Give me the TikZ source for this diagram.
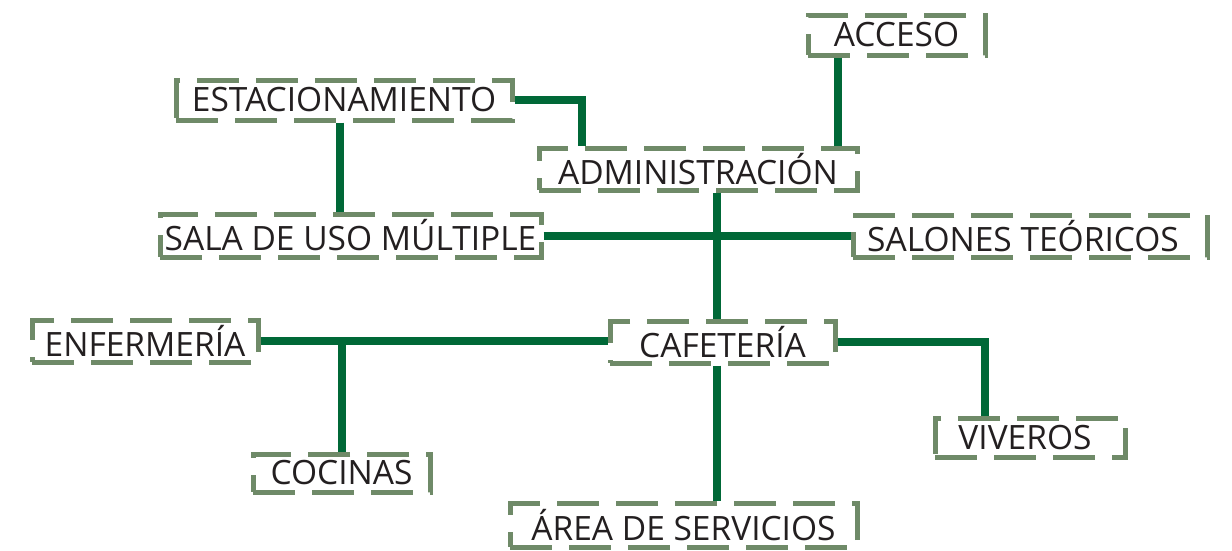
\documentclass[tikz,border=0pt]{standalone}
\usepackage{fontspec}
\setmainfont{Open Sans}
\definecolor{boxgreen}{RGB}{111,138,104}
\definecolor{linegreen}{RGB}{0,104,55}
\definecolor{txt}{RGB}{35,31,32}
\begin{document}
\begin{tikzpicture}[x=1pt,y=-1pt,
  area/.style={draw=boxgreen,line width=5pt,dash pattern=on 42pt off 17pt,
    rectangle,inner sep=0pt,text=txt,font=\fontsize{33.5}{33.5}\selectfont},
  conn/.style={draw=linegreen,line width=8pt}]
\useasboundingbox (0,0) rectangle (1232,550);
\node[area,minimum width=177pt,minimum height=40pt] (acc) at (896.5,35) {ACCESO};
\node[area,minimum width=336pt,minimum height=40pt] (est) at (344,100) {ESTACIONAMIENTO};
\node[area,minimum width=318pt,minimum height=42pt] (adm) at (698,169) {ADMINISTRACIÓN};
\node[area,minimum width=381pt,minimum height=43pt] (sala) at (350.5,235.5) {SALA DE USO MÚLTIPLE};
\node[area,minimum width=354pt,minimum height=42pt] (sal) at (1030,236) {SALONES TEÓRICOS\hspace*{14pt}};
\node[area,minimum width=226pt,minimum height=42pt] (enf) at (145,341) {ENFERMERÍA};
\node[area,minimum width=225pt,minimum height=42pt] (caf) at (722.5,342) {CAFETERÍA};
\node[area,minimum width=177pt,minimum height=38pt] (coc) at (341.5,473) {COCINAS};
\node[area,minimum width=190pt,minimum height=39pt] (viv) at (1030,437.5) {VIVEROS\hspace*{10pt}};
\node[area,minimum width=347pt,minimum height=44pt] (ser) at (683.5,525) {ÁREA DE SERVICIOS};
\coordinate (a1) at ([xshift=-58.5pt]acc.south);
\coordinate (e2) at ([xshift=-116pt]adm.north);
\coordinate (e3) at ([xshift=-4pt]est.south);
\coordinate (d1) at ([xshift=19pt]adm.south);
\coordinate (c1) at ([xshift=-5.5pt]caf.south);
\coordinate (v1) at ([xshift=-45pt]viv.north);
\draw[conn] (a1) -- (a1 |- adm.north);
\draw[conn] (est.east) -| (e2);
\draw[conn] (e3) -- (e3 |- sala.north);
\draw[conn] (d1) -- (d1 |- caf.north);
\draw[conn] (sala.east) -- (sala.east -| sal.west);
\draw[conn] (enf.east) -- (enf.east -| caf.west);
\draw[conn] (coc.north |- enf.east) -- (coc.north);
\draw[conn] (c1) -- (c1 |- ser.north);
\draw[conn] (caf.east) -| (v1);
\end{tikzpicture}
\end{document}
